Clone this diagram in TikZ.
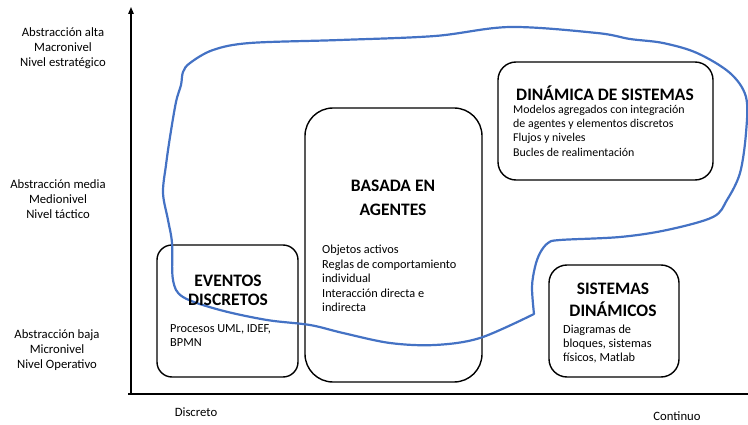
\documentclass[tikz,border=0pt]{standalone}
\usepackage{fontspec}
\setmainfont{Carlito}
\usetikzlibrary{arrows.meta}
\definecolor{loopblue}{RGB}{68,114,196}
\tikzset{
  box/.style={draw=black, line width=1.4pt, rounded corners=#1, inner sep=0pt},
  axis/.style={draw=black, line width=1.3pt},
  lbl/.style={font=\fontsize{12.7}{15}\selectfont, align=center, inner sep=0pt},
  ttl/.style={font=\fontsize{17.5}{#1}\selectfont\bfseries, align=center, inner sep=0pt},
  body/.style={font=\fontsize{12.3}{#1}\selectfont, align=left, anchor=west, inner sep=0pt},
  smallbody/.style={font=\fontsize{11.9}{#1}\selectfont, align=left, anchor=west, inner sep=0pt},
  loop/.style={draw=loopblue, line width=2.2pt, line join=round, line cap=round}
}
\begin{document}
\begin{tikzpicture}[x=1pt,y=-1pt]
\useasboundingbox (0,0) rectangle (748,425);
% axes
\coordinate (o) at (131,394);
\coordinate (ytop) at (131,7);
\coordinate (xstart) at (128,394);
\coordinate (xend) at (748,394);
\draw[axis, -{Triangle[length=7pt,width=5.5pt]}] (o) -- (ytop);
\draw[axis] (xstart) -- (xend);
% axis labels
\node[lbl] (alta) at (63,48) {Abstracción alta\\Macronivel\\Nivel estratégico};
\node[lbl] (media) at (58,199) {Abstracción media\\Medionivel\\Nivel táctico};
\node[lbl] (baja) at (57,350) {Abstracción baja\\Micronivel\\Nivel Operativo};
\node[lbl] (disc) at (196,412) {Discreto};
\node[lbl] (cont) at (677,416) {Continuo};
% boxes
\node[box=15pt, minimum width=141pt, minimum height=132pt] (ev) at (227.5,311) {};
\node[box=28pt, minimum width=177pt, minimum height=274pt] (ag) at (393.5,245) {};
\node[box=18pt, minimum width=215pt, minimum height=118pt] (ds) at (605.5,121) {};
\node[box=18pt, minimum width=130pt, minimum height=112pt] (sd) at (614,321) {};
% blue loop
\draw[loop] plot[smooth, tension=0.55] coordinates {
 (534,314) (532,287) (535,267) (540,253) (548,243) (560,240) (620,237) (667,230)
 (713,217) (727,200) (740,173) (746,133) (746,97) (730,73) (697,53) (663,43)
 (630,39) (597,33) (510,27) (435,36) (340,40) (250,43) (213,50) (190,63)
 (183,72) (181,85) (176,102) (170,137) (166,165) (163,193) (168,220) (172,243)
 (173,280) (183,297) (220,310) (267,320) (310,325) (343,333) (390,343) (435,345)
 (480,338) (534,314)};
% box texts
\node[ttl=19] (evt) at (228,290.5) {EVENTOS\\DISCRETOS};
\node[body=14] (evb) at (170,336) {Procesos UML, IDEF,\\BPMN};
\node[ttl=24] (agt) at (393,198) {BASADA EN\\AGENTES};
\node[body=14.5] (agb) at (322,278.5) {Objetos activos\\Reglas de comportamiento\\individual\\Interacción directa e\\indirecta};
\node[ttl=19] (dst) at (605,93) {DINÁMICA DE SISTEMAS};
\node[smallbody=14.3] (dsb) at (513,130.5) {Modelos agregados con integración\\de agentes y elementos discretos\\Flujos y niveles\\Bucles de realimentación};
\node[ttl=22] (sdt) at (613,300) {SISTEMAS\\DINÁMICOS};
\node[body=14] (sdb) at (563,344) {Diagramas de\\bloques, sistemas\\físicos, Matlab};
\end{tikzpicture}
\end{document}
